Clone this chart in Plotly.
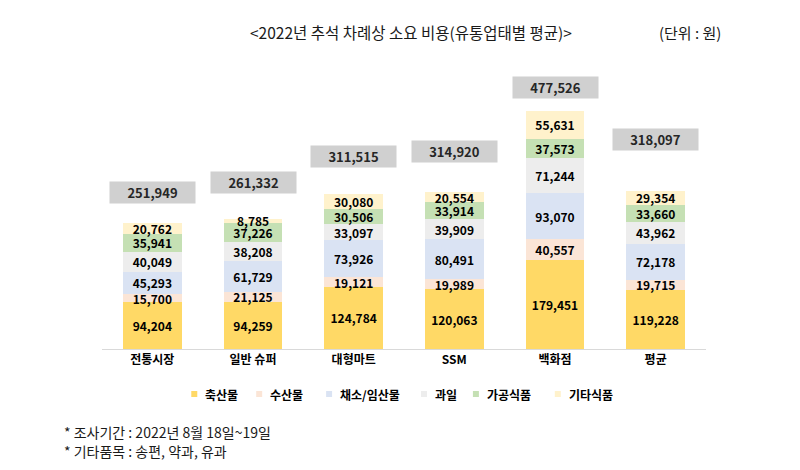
import plotly.graph_objects as go

# ---------------- data ----------------
categories = ["전통시장", "일반 슈퍼", "대형마트", "SSM", "백화점", "평균"]
series_names = ["축산물", "수산물", "채소/임산물", "과일", "가공식품", "기타식품"]
livestock = [94204, 94259, 124784, 120063, 179451, 119228]
seafood = [15700, 21125, 19121, 19989, 40557, 19715]
vegetables = [45293, 61729, 73926, 80491, 93070, 72178]
fruit = [40049, 38208, 33097, 39909, 71244, 43962]
processed = [35941, 37226, 30506, 33914, 37573, 33660]
other = [20762, 8785, 30080, 20554, 55631, 29354]
totals = [251949, 261332, 311515, 314920, 477526, 318097]

title_text = "<2022년 추석 차례상 소요 비용(유통업태별 평균)>"
unit_text = "(단위 : 원)"
footnotes = ["* 조사기간 : 2022년 8월 18일~19일", "* 기타품목 : 송편, 약과, 유과"]

# ---------------- style / layout ----------------
FONT = "Noto Sans CJK KR"
colors = ["#FFD966", "#FBE5D6", "#DAE3F3", "#EDEDED", "#C5E0B4", "#FFF2CC"]
W, H = 800, 470
OFF = 8  # page body margin in the browser
PLOT_L, PLOT_R, PLOT_T, PLOT_B = 101.6, 706.4, 60, 349  # target screen pixels
ML = PLOT_L - OFF
MR = W - (PLOT_R - OFF)
MT = PLOT_T - OFF
MB = H - (PLOT_B - OFF)
PW, PH = PLOT_R - PLOT_L, PLOT_B - PLOT_T
YMAX = 580000
# pixel gap between bar top and total box (label placement)
total_gap_px = [19, 25, 26, 29, 12, 40]
# legend swatch centres (screen pixels)
legend_x_px = [194, 259, 329, 424, 476, 558]
legend_y_px = 394


def pxx(x):
    return (x - PLOT_L) / PW


def pxy(y):
    return (PLOT_B - y) / PH


series_values = [livestock, seafood, vegetables, fruit, processed, other]

fig = go.Figure()
for name, vals, col in zip(series_names, series_values, colors):
    fig.add_trace(go.Bar(
        x=categories, y=vals, name=name,
        marker=dict(color=col, line=dict(width=0)),
        text=[f"{v:,}" for v in vals],
        textposition="inside", insidetextanchor="middle",
        textangle=0, constraintext="none",
        textfont=dict(family=FONT, size=12, color="#000000", weight="bold"),
        showlegend=False,
        hoverinfo="skip",
    ))

annotations = []
for cat, tot, gap in zip(categories, totals, total_gap_px):
    annotations.append(dict(
        x=cat, y=tot, xref="x", yref="y",
        text=f"{tot:,}", showarrow=False,
        yanchor="bottom", yshift=gap,
        bgcolor="#D0D0D0", width=85, height=21, borderpad=0,
        font=dict(family=FONT, size=13, color="#262626", weight="bold"),
    ))

# title & unit
annotations.append(dict(x=pxx(411), y=pxy(32), xref="paper", yref="paper",
                        text=title_text, showarrow=False, xanchor="center", yanchor="middle",
                        font=dict(family=FONT, size=15.5, color="#1a1a1a")))
annotations.append(dict(x=pxx(723), y=pxy(32), xref="paper", yref="paper",
                        text=unit_text, showarrow=False, xanchor="right", yanchor="middle",
                        font=dict(family=FONT, size=15, color="#1a1a1a")))

# footnotes
for i, fn in enumerate(footnotes):
    annotations.append(dict(x=pxx(62), y=pxy(432 + 19 * i), xref="paper", yref="paper",
                            text=fn, showarrow=False, xanchor="left", yanchor="middle",
                            font=dict(family=FONT, size=14, color="#1a1a1a")))

# custom legend
shapes = []
for name, col, lx in zip(series_names, colors, legend_x_px):
    shapes.append(dict(type="rect", xref="paper", yref="paper",
                       x0=pxx(lx - 3), x1=pxx(lx + 3), y0=pxy(legend_y_px + 3), y1=pxy(legend_y_px - 3),
                       fillcolor=col, line=dict(width=0)))
    annotations.append(dict(x=pxx(lx + 9), y=pxy(legend_y_px), xref="paper", yref="paper",
                            text=name, showarrow=False, xanchor="left", yanchor="middle",
                            font=dict(family=FONT, size=12, color="#000000", weight="bold")))

fig.update_layout(
    width=W, height=H,
    margin=dict(l=ML, r=MR, t=MT, b=MB, pad=0),
    barmode="stack", bargap=0.415,
    plot_bgcolor="white", paper_bgcolor="white",
    font=dict(family=FONT),
    annotations=annotations, shapes=shapes,
    xaxis=dict(showline=True, linecolor="#D9D9D9", linewidth=1, showgrid=False,
               ticks="", tickfont=dict(family=FONT, size=12, color="#000000", weight="bold"),
               fixedrange=True),
    yaxis=dict(range=[0, YMAX], visible=False, showgrid=False, zeroline=False, fixedrange=True),
)

fig.write_html("out.html", config={"displayModeBar": False})
